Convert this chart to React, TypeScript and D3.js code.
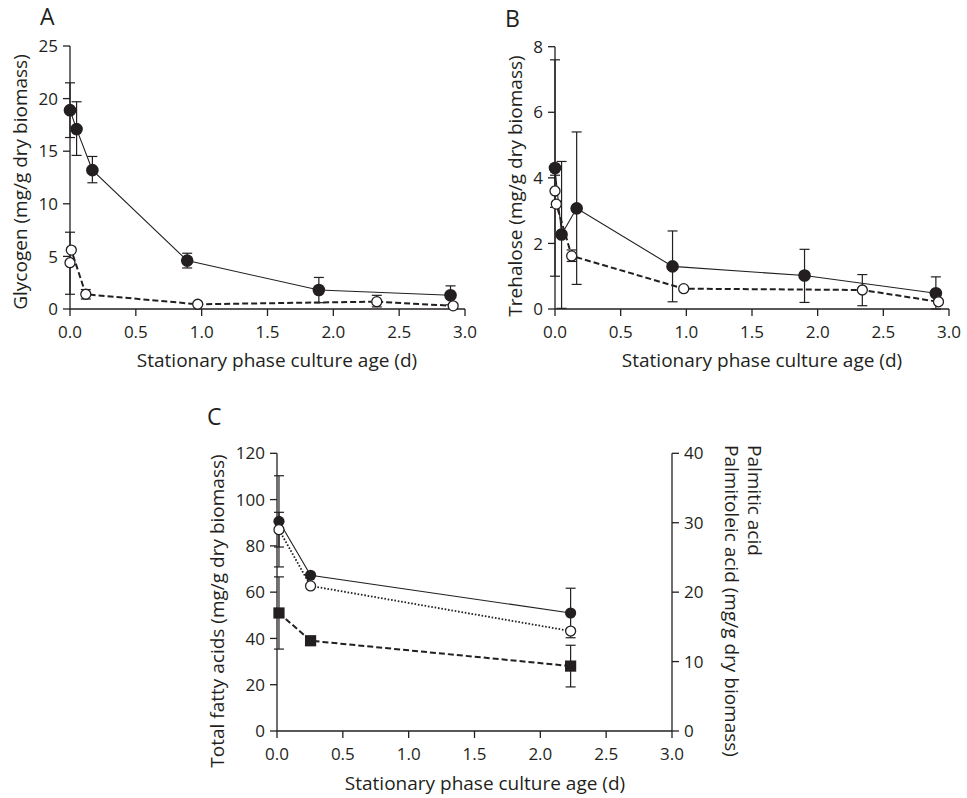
import React from "react";
import * as d3 from "d3";

const ink = "#231f20";
const font = "'Open Sans', sans-serif";

// shared x ticks (stationary phase culture age, d)
const dayTicks = [0, 0.5, 1, 1.5, 2, 2.5, 3];

// panel A - glycogen (mg/g dry biomass)
const glyTicks = [0, 5, 10, 15, 20, 25];
const glyClosedDays = [0.0, 0.05, 0.17, 0.89, 1.89, 2.89];
const glyClosed = [18.9, 17.1, 13.2, 4.6, 1.8, 1.3];
const glyClosedLo = [16.3, 14.6, 12.0, 3.9, 0.6, 0.4];
const glyClosedHi = [21.5, 19.7, 14.5, 5.3, 3.0, 2.2];
const glyOpenDays = [0.0, 0.01, 0.12, 0.97, 2.33, 2.91];
const glyOpen = [4.4, 5.6, 1.4, 0.45, 0.7, 0.3];
const glyOpenLo = [1.4, 5.6, 0.95, 0.45, 0.2, 0.3];
const glyOpenHi = [7.3, 5.6, 1.85, 0.45, 1.3, 0.3];

// panel B - trehalose (mg/g dry biomass)
const treTicks = [0, 2, 4, 6, 8];
const treClosedDays = [0.0, 0.05, 0.165, 0.895, 1.9, 2.9];
const treClosed = [4.3, 2.27, 3.07, 1.3, 1.02, 0.48];
const treClosedLo = [1.0, 0.02, 0.75, 0.22, 0.2, 0.0];
const treClosedHi = [7.6, 4.5, 5.4, 2.38, 1.82, 0.98];
const treOpenDays = [0.0, 0.01, 0.127, 0.98, 2.34, 2.92];
const treOpen = [3.6, 3.2, 1.62, 0.62, 0.58, 0.22];
const treOpenLo = [3.1, 3.2, 1.45, 0.62, 0.1, 0.22];
const treOpenHi = [4.08, 3.2, 1.8, 0.62, 1.05, 0.22];

// panel C - fatty acids
const tfaTicks = [0, 20, 40, 60, 80, 100, 120];
const paTicks = [0, 10, 20, 30, 40];
const faDays = [0.015, 0.255, 2.23];
const totalFA = [90.6, 67.3, 51.0];
const totalFAErr = [19.7, 0, 10.7];
const palmitoleic = [29.0, 20.9, 14.4];
const palmitoleicErr = [2.5, 0, 0];
const palmitic = [17.0, 13.0, 9.35];
const palmiticErr = [5.2, 0, 3.0];

const fmt = d3.format(".1f");
type Scale = d3.ScaleLinear<number, number>;

const BottomAxis = ({ x, y0 }: { x: Scale; y0: number }) => {
  const [a, b] = x.range();
  return (
    <g>
      <line x1={a} x2={b} y1={y0} y2={y0} stroke={ink} strokeWidth={1.3} />
      {dayTicks.map((t) => (
        <g key={t}>
          <line x1={x(t)} x2={x(t)} y1={y0} y2={y0 + 7} stroke={ink} strokeWidth={1.3} />
          <text x={x(t)} y={y0 + 29} textAnchor="middle" fontSize={17} fill={ink}>
            {fmt(t)}
          </text>
        </g>
      ))}
    </g>
  );
};

const SideAxis = ({ y, x0, ticks, side }: { y: Scale; x0: number; ticks: number[]; side: number }) => {
  const [a, b] = y.range();
  return (
    <g>
      <line x1={x0} x2={x0} y1={a} y2={b} stroke={ink} strokeWidth={1.3} />
      {ticks.map((t) => (
        <g key={t}>
          <line x1={x0} x2={x0 + side * 7} y1={y(t)} y2={y(t)} stroke={ink} strokeWidth={1.3} />
          <text
            x={x0 + side * 12}
            y={y(t)}
            dy="0.36em"
            textAnchor={side < 0 ? "end" : "start"}
            fontSize={17}
            fill={ink}
          >
            {t}
          </text>
        </g>
      ))}
    </g>
  );
};

interface SeriesProps {
  xs: number[];
  ys: number[];
  lo: number[];
  hi: number[];
  x: Scale;
  y: Scale;
  kind: "filled" | "open" | "square";
  dash?: string;
  lw: number;
  r: number;
}

const Series = ({ xs, ys, lo, hi, x, y, kind, dash, lw, r }: SeriesProps) => {
  const path = d3
    .line<number>()
    .x((_, i) => x(xs[i]))
    .y((v) => y(v))(ys);
  return (
    <g>
      <path d={path || ""} fill="none" stroke={ink} strokeWidth={lw} strokeDasharray={dash} />
      {ys.map((v, i) => {
        if (lo[i] === hi[i]) return null;
        const cx = x(xs[i]);
        return (
          <g key={"e" + i} stroke={ink} strokeWidth={1.2}>
            <line x1={cx} x2={cx} y1={y(lo[i])} y2={y(hi[i])} />
            <line x1={cx - 5} x2={cx + 5} y1={y(lo[i])} y2={y(lo[i])} />
            <line x1={cx - 5} x2={cx + 5} y1={y(hi[i])} y2={y(hi[i])} />
          </g>
        );
      })}
      {ys.map((v, i) => {
        const cx = x(xs[i]);
        const cy = y(v);
        if (kind === "square")
          return <rect key={i} x={cx - r} y={cy - r} width={2 * r} height={2 * r} fill={ink} />;
        if (kind === "open")
          return <circle key={i} cx={cx} cy={cy} r={r} fill="#fff" stroke={ink} strokeWidth={1.3} />;
        return <circle key={i} cx={cx} cy={cy} r={r} fill={ink} />;
      })}
    </g>
  );
};

const App = () => {
  const xA = d3.scaleLinear().domain([0, 3]).range([70, 465]);
  const yA = d3.scaleLinear().domain([0, 25]).range([309, 46]);
  const xB = d3.scaleLinear().domain([0, 3]).range([555, 949]);
  const yB = d3.scaleLinear().domain([0, 8]).range([309, 46.7]);
  const xC = d3.scaleLinear().domain([0, 3]).range([277, 672]);
  const yC = d3.scaleLinear().domain([0, 120]).range([731, 453.3]);
  const yR = d3.scaleLinear().domain([0, 40]).range([731, 453.3]);

  const sub = (a: number[], e: number[]) => a.map((v, i) => v - e[i]);
  const add = (a: number[], e: number[]) => a.map((v, i) => v + e[i]);

  return (
    <svg
      width={967}
      height={798}
      style={{ position: "absolute", left: 0, top: 0, background: "#fff" }}
      fontFamily={font}
    >
      {/* panel A */}
      <text x={40} y={25} fontSize={23} fill={ink}>A</text>
      <BottomAxis x={xA} y0={309} />
      <SideAxis y={yA} x0={70} ticks={glyTicks} side={-1} />
      <text transform="translate(27,182) rotate(-90)" textAnchor="middle" fontSize={19} fill={ink}>
        Glycogen (mg/g dry biomass)
      </text>
      <text x={277} y={367} textAnchor="middle" fontSize={19} fill={ink}>
        Stationary phase culture age (d)
      </text>
      <Series xs={glyClosedDays} ys={glyClosed} lo={glyClosedLo} hi={glyClosedHi} x={xA} y={yA} kind="filled" lw={1.1} r={6.3} />
      <Series xs={glyOpenDays} ys={glyOpen} lo={glyOpenLo} hi={glyOpenHi} x={xA} y={yA} kind="open" dash="6,3" lw={2} r={5} />

      {/* panel B */}
      <text x={505} y={27} fontSize={23} fill={ink}>B</text>
      <BottomAxis x={xB} y0={309} />
      <SideAxis y={yB} x0={555} ticks={treTicks} side={-1} />
      <text transform="translate(522,186) rotate(-90)" textAnchor="middle" fontSize={19} fill={ink}>
        Trehalose (mg/g dry biomass)
      </text>
      <text x={762} y={367} textAnchor="middle" fontSize={19} fill={ink}>
        Stationary phase culture age (d)
      </text>
      <Series xs={treClosedDays} ys={treClosed} lo={treClosedLo} hi={treClosedHi} x={xB} y={yB} kind="filled" lw={1.1} r={6.3} />
      <Series xs={treOpenDays} ys={treOpen} lo={treOpenLo} hi={treOpenHi} x={xB} y={yB} kind="open" dash="6,3" lw={2} r={5} />

      {/* panel C */}
      <text x={207} y={425} fontSize={23} fill={ink}>C</text>
      <BottomAxis x={xC} y0={731} />
      <SideAxis y={yC} x0={277} ticks={tfaTicks} side={-1} />
      <SideAxis y={yR} x0={672} ticks={paTicks} side={1} />
      <text transform="translate(224,611) rotate(-90)" textAnchor="middle" fontSize={19} fill={ink}>
        Total fatty acids (mg/g dry biomass)
      </text>
      <text transform="translate(748,445) rotate(90)" fontSize={19} fill={ink}>
        Palmitic acid
      </text>
      <text transform="translate(725,445) rotate(90)" fontSize={19} fill={ink}>
        Palmitoleic acid (mg/g dry biomass)
      </text>
      <text x={485} y={790} textAnchor="middle" fontSize={19} fill={ink}>
        Stationary phase culture age (d)
      </text>
      <Series xs={faDays} ys={totalFA} lo={sub(totalFA, totalFAErr)} hi={add(totalFA, totalFAErr)} x={xC} y={yC} kind="filled" lw={1.1} r={5.6} />
      <Series xs={faDays} ys={palmitoleic} lo={sub(palmitoleic, palmitoleicErr)} hi={add(palmitoleic, palmitoleicErr)} x={xC} y={yR} kind="open" dash="1.6,1.8" lw={1.8} r={5} />
      <Series xs={faDays} ys={palmitic} lo={sub(palmitic, palmiticErr)} hi={add(palmitic, palmiticErr)} x={xC} y={yR} kind="square" dash="6,3" lw={2} r={5.6} />
    </svg>
  );
};

export default App;
